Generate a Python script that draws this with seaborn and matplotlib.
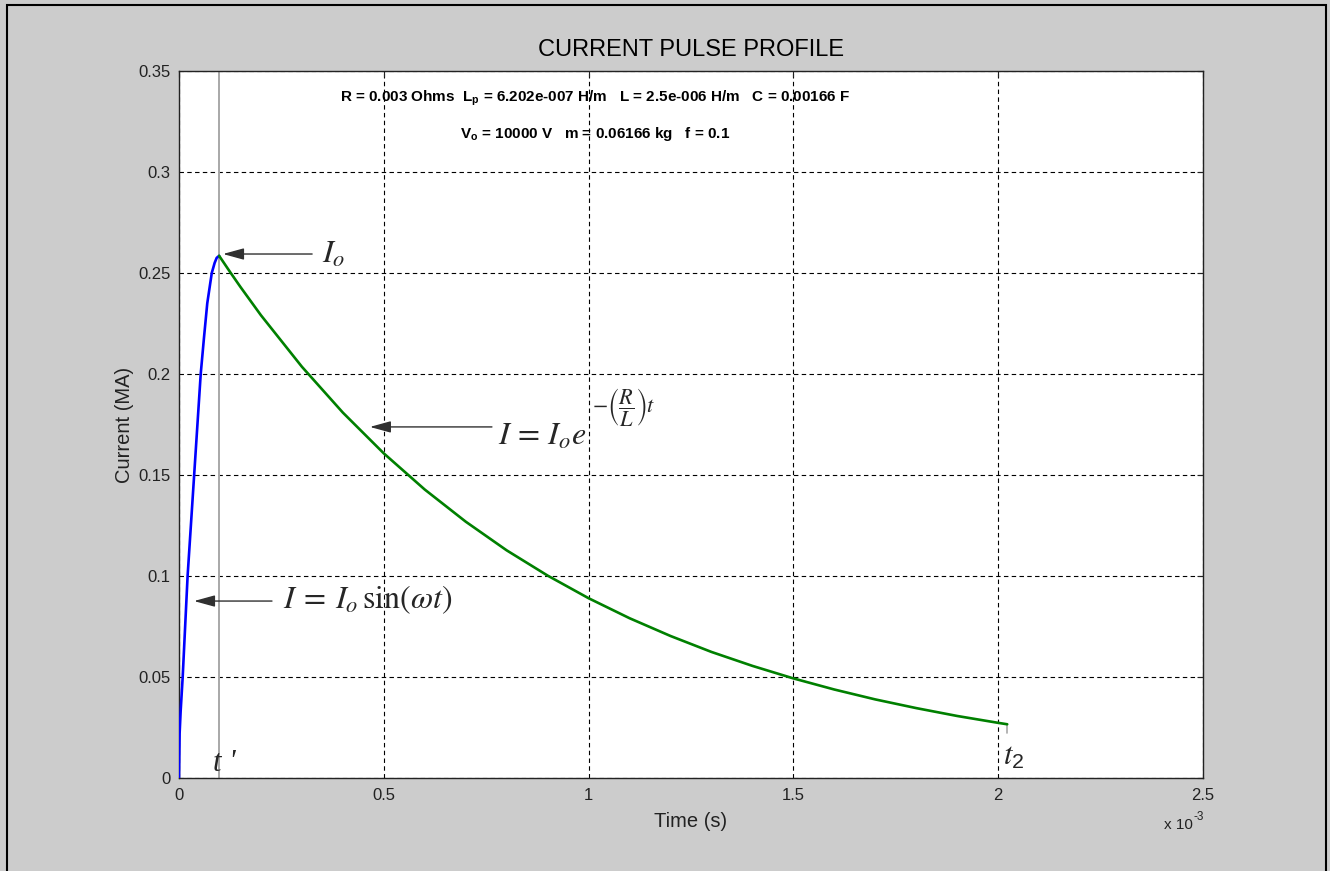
import matplotlib
matplotlib.use('Agg')
import matplotlib.pyplot as plt
import seaborn as sns
import pandas as pd
from matplotlib.patches import Rectangle

# ---------------- data (time in ms, current in MA) ----------------
t_rise = [0.0, 0.0015, 0.004, 0.009, 0.015, 0.021, 0.029, 0.037, 0.045, 0.053,
          0.061, 0.069, 0.080, 0.087, 0.092, 0.098]
i_rise = [0.0, 0.022, 0.033, 0.050, 0.075, 0.100, 0.125, 0.150, 0.175, 0.200,
          0.218, 0.235, 0.250, 0.255, 0.2575, 0.2585]

t_decay = [0.098, 0.125, 0.15, 0.2, 0.3, 0.4, 0.5, 0.6, 0.7, 0.8, 0.9, 1.0, 1.1,
           1.2, 1.3, 1.4, 1.5, 1.6, 1.7, 1.8, 1.9, 2.0, 2.022]
i_decay = [0.2585, 0.2504, 0.2431, 0.2291, 0.2036, 0.1809, 0.1607, 0.1428, 0.1269,
           0.1127, 0.1002, 0.0890, 0.0791, 0.0703, 0.0624, 0.0555, 0.0493, 0.0438,
           0.0389, 0.0346, 0.0307, 0.0273, 0.0266]

t_prime = 0.098           # ms
t_end = 2.022             # ms
t_end_marker = [0.0266, 0.0222]

x_ticks = [0, 0.5, 1.0, 1.5, 2.0, 2.5]
x_tick_labels = ['0', '0.5', '1', '1.5', '2', '2.5']
y_ticks = [0, 0.05, 0.1, 0.15, 0.2, 0.25, 0.3, 0.35]
y_tick_labels = ['0', '0.05', '0.1', '0.15', '0.2', '0.25', '0.3', '0.35']

title = 'CURRENT PULSE PROFILE'
param_line1 = r'R = 0.003 Ohms  $\mathregular{L_p}$ = 6.202e-007 H/m   L = 2.5e-006 H/m   C = 0.00166 F'
param_line2 = r'$\mathregular{V_o}$ = 10000 V   m = 0.06166 kg   f = 0.1'

# ---------------- style ----------------
sns.set_style('white')
plt.rcParams['font.family'] = ['Liberation Sans', 'DejaVu Sans']
plt.rcParams['mathtext.fontset'] = 'stix'

W, H = 1330, 871
fig = plt.figure(figsize=(W / 100, H / 100), dpi=100)
fig.patch.set_facecolor('#cccccc')
ax = fig.add_axes([179 / W, 93 / H, 1024 / W, 707 / H])
ax.set_facecolor('white')

S = 1e-3
rise = pd.DataFrame({'t': [v * S for v in t_rise], 'I': i_rise})
decay = pd.DataFrame({'t': [v * S for v in t_decay], 'I': i_decay})

ax.axvline(t_prime * S, color='#a8a8a8', lw=1.4, zorder=2)
ax.plot([t_end * S, t_end * S], t_end_marker, color='#a8a8a8', lw=1.2, zorder=2)

sns.lineplot(data=rise, x='t', y='I', ax=ax, color='#0000ff', lw=1.9,
             sort=False, estimator=None, zorder=4)
sns.lineplot(data=decay, x='t', y='I', ax=ax, color='#008000', lw=1.9,
             sort=False, estimator=None, zorder=4)

ax.set_xlim(0, 2.5 * S)
ax.set_ylim(0, 0.35)
ax.set_xticks([v * S for v in x_ticks])
ax.set_xticklabels(x_tick_labels)
ax.set_yticks(y_ticks)
ax.set_yticklabels(y_tick_labels)
ax.tick_params(direction='in', length=4.5, width=0.8, colors='#222222',
               labelsize=12, top=True, right=True, pad=6)
ax.tick_params(axis='x', pad=7)
ax.grid(True, color='black', lw=0.8, linestyle=(0, (4, 3)))
for sp in ax.spines.values():
    sp.set_visible(True)
    sp.set_color('#222222')
    sp.set_linewidth(1.0)

ax.set_xlabel('Time (s)', fontsize=14.5, color='#222222', labelpad=7)
ax.set_ylabel('Current (MA)', fontsize=14.5, color='#222222', labelpad=3)
ax.set_title(title, fontsize=17, color='black', pad=11)

# axis multiplier
fig.text(1193 / W, (H - 829) / H, 'x 10', ha='right', va='baseline',
         fontsize=11, color='#222222')
fig.text(1193 / W, (H - 820) / H, '-3', ha='left', va='baseline',
         fontsize=8.5, color='#222222')

# parameter lines
ax.text(1.016 * S, 0.3347, param_line1, ha='center', va='baseline',
        fontsize=11, fontweight='bold', color='black')
ax.text(1.016 * S, 0.3168, param_line2, ha='center', va='baseline',
        fontsize=11, fontweight='bold', color='black')

# formula annotations
arrow_kw = dict(arrowstyle='-|>,head_length=0.8,head_width=0.22', color='#303030',
                lw=1.0, shrinkA=0, shrinkB=0, mutation_scale=16)
ax.annotate('', xy=(0.1074 * S, 0.2594), xytext=(0.325 * S, 0.2594), arrowprops=arrow_kw)
ax.text(0.349 * S, 0.2550, r'$I_o$', fontsize=23, ha='left', va='baseline')

ax.annotate('', xy=(0.466 * S, 0.1738), xytext=(0.764 * S, 0.1738), arrowprops=arrow_kw)
main_exp = ax.text(0.779 * S, 0.1649, r'$I\,=\,I_o e$', fontsize=23,
                   ha='left', va='baseline')
ax.annotate(r'$-\left(\dfrac{R}{L}\right)t$', xy=(1.0, 1.0), xycoords=main_exp,
            xytext=(4, 11), textcoords='offset points', ha='left', va='center',
            fontsize=16)

ax.annotate('', xy=(0.0366 * S, 0.0876), xytext=(0.227 * S, 0.0876), arrowprops=arrow_kw)
ax.text(0.254 * S, 0.0842, r'$I\:=\:I_o\,\sin(\omega t)$', fontsize=23,
        ha='left', va='baseline')

ax.text(0.083 * S, 0.0035, "t '", fontsize=22, ha='left', va='baseline',
        family='Liberation Serif', style='italic')
ax.text(2.012 * S, 0.0064, r'$t_{\mathregular{2}}$', fontsize=22, ha='left', va='baseline')

# figure border
fig.add_artist(Rectangle((7 / W, -0.01), (1326 - 7) / W, (H - 5) / H + 0.01,
                         transform=fig.transFigure, fill=False, ec='black', lw=1.5))

fig.savefig('out.png', dpi=100, facecolor=fig.get_facecolor())
